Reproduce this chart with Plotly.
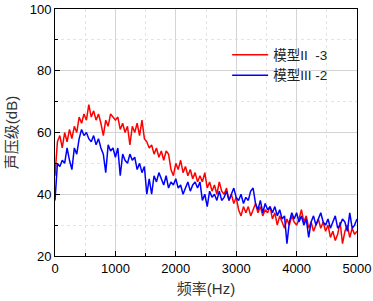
import plotly.graph_objects as go

freq = list(range(0, 5001, 40))

red = [46, 57, 59, 55, 60, 57, 61, 58, 62, 60,
       65, 63, 66, 64, 69, 65, 67, 64, 66, 63,
       59, 64, 62, 66, 65, 64, 65, 61, 63, 60,
       62, 56, 62, 60, 63, 59, 64, 58, 57, 55,
       56, 53, 55, 52, 54, 51, 54, 53, 48, 46,
       50, 48, 51, 47, 49, 46, 48, 45, 47, 44,
       46, 44, 47, 42, 44, 41, 43, 40, 44, 41,
       40, 42, 38, 40, 37, 39, 35, 33, 36, 34,
       36, 33, 35, 37, 34, 36, 33, 35, 34, 36,
       32, 34, 30, 33, 31, 29, 32, 30, 33, 31,
       30, 32, 35, 31, 33, 29, 31, 28, 30, 32,
       29, 31, 28, 30, 26, 28, 25, 27, 31, 24,
       28, 30, 26, 29, 27, 28]

blue = [38, 50, 49, 51, 50, 55, 51, 48, 55, 53,
        58, 61, 59, 60, 58, 57, 59, 56, 58, 55,
        53, 47, 56, 54, 55, 52, 55, 46, 53, 51,
        50, 53, 51, 52, 48, 50, 47, 49, 40, 45,
        40, 46, 44, 47, 45, 43, 46, 42, 44, 43,
        45, 42, 43, 40, 42, 44, 41, 43, 44, 42,
        44, 38, 40, 36, 41, 39, 40, 38, 41, 38,
        39, 41, 38, 40, 42, 39, 38, 40, 37, 39,
        38, 41, 42, 37, 35, 38, 34, 37, 35, 36,
        34, 36, 33, 35, 32, 33, 24, 31, 34, 32,
        34, 31, 33, 30, 32, 26, 31, 33, 30, 32,
        34, 31, 30, 32, 29, 31, 33, 29, 30, 32,
        31, 28, 34, 29, 30, 32]

names = ["模型II  -3", "模型III -2"]

FONT = "Liberation Sans, Arial, Noto Sans CJK SC, sans-serif"

fig = go.Figure()
fig.add_trace(go.Scatter(x=freq, y=red, mode="lines", name=names[0],
                         line=dict(color="#ff0000", width=1.5)))
fig.add_trace(go.Scatter(x=freq, y=blue, mode="lines", name=names[1],
                         line=dict(color="#0000ff", width=1.5)))

axis_common = dict(
    showline=True, linecolor="black", linewidth=1, mirror=True,
    ticks="inside", ticklen=5, tickcolor="black", automargin=False,
    showgrid=True, gridcolor="#d4d4d4", gridwidth=1, zeroline=False,
    tickfont=dict(family=FONT, size=13, color="black"),
)

fig.update_xaxes(range=[0, 5000], dtick=1000, tick0=0,
                 minor=dict(ticks="inside", ticklen=3, dtick=500, tickcolor="black",
                            showgrid=True, gridcolor="#e4e4e4", griddash="dot"),
                 title=dict(text="频率(Hz)", font=dict(family=FONT, size=15, color="#333"),
                            standoff=8),
                 **axis_common)
fig.update_yaxes(range=[20, 100], dtick=20, tick0=20,
                 minor=dict(ticks="inside", ticklen=3, dtick=10, tickcolor="black",
                            showgrid=True, gridcolor="#e4e4e4", griddash="dot"),
                 title=dict(text="声压级(dB)", font=dict(family=FONT, size=15, color="#333"),
                            standoff=8),
                 **axis_common)

fig.update_layout(
    width=373, height=301,
    margin=dict(l=55, r=16, t=9, b=45),
    plot_bgcolor="white", paper_bgcolor="white",
    font=dict(family=FONT, size=13, color="black"),
    legend=dict(x=0.57, y=0.877, xanchor="left", yanchor="top",
                bgcolor="rgba(0,0,0,0)", borderwidth=0,
                font=dict(family=FONT, size=13.5, color="#222"),
                tracegroupgap=0, itemwidth=36),
    showlegend=True,
)

fig.write_html("out.html", config={"displayModeBar": False},
               post_script="document.body.style.margin='0px';")
